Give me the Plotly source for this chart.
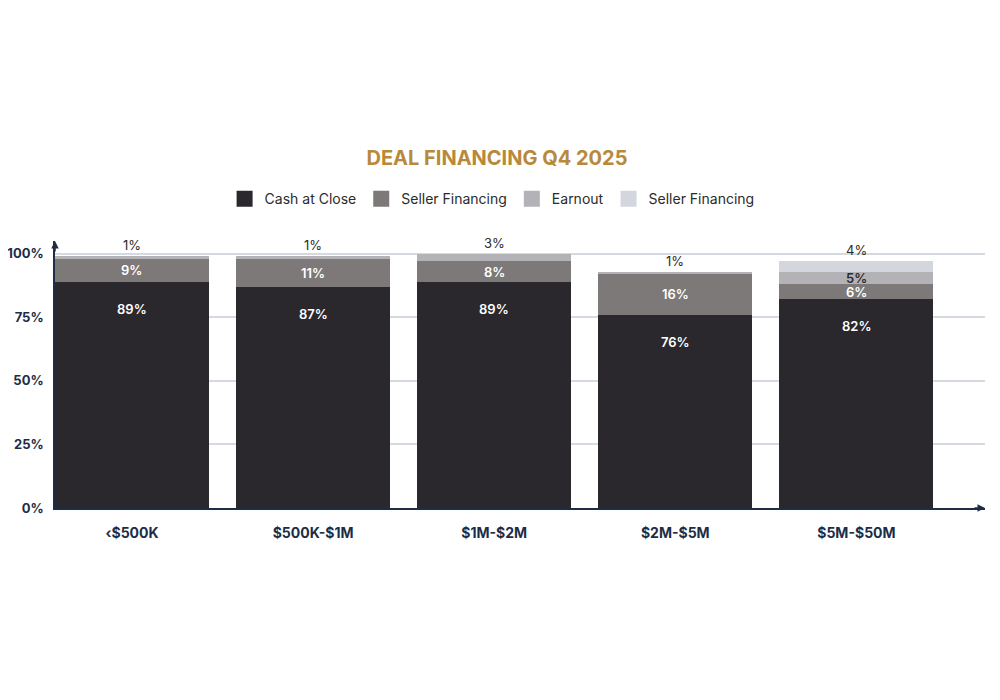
import plotly.graph_objects as go

# Data
categories = ['‹$500K', '$500K-$1M', '$1M-$2M', '$2M-$5M', '$5M-$50M']
series_names = ['Cash at Close', 'Seller Financing', 'Earnout', 'Seller Financing']
cash_at_close = [89, 87, 89, 76, 82]
seller_financing = [9, 11, 8, 16, 6]
earnout = [1, 1, 3, 1, 5]
seller_financing_2 = [0, 0, 0, 0, 4]

series = [cash_at_close, seller_financing, earnout, seller_financing_2]
colors = ['#2a282d', '#7d7978', '#b3b2b6', '#d4d6de']
navy = '#1d2d47'
font_family = 'Inter, Roboto, Arial, sans-serif'

fig = go.Figure()

for name, vals, col in zip(series_names, series, colors):
    fig.add_trace(go.Bar(
        x=categories, y=vals, name=name, showlegend=False,
        marker=dict(color=col, line=dict(width=0)),
    ))

# bigger square legend keys
for name, col in zip(series_names, colors):
    fig.add_trace(go.Scatter(
        x=[None], y=[None], mode='markers', name=name,
        marker=dict(symbol='square', size=17, color=col),
    ))

# Value labels
annotations = []
for i, cat in enumerate(categories):
    vals = [s[i] for s in series]
    top_idx = max(j for j, v in enumerate(vals) if v > 0)
    base = 0
    for j, v in enumerate(vals):
        if v <= 0:
            continue
        label = dict(x=cat, text=f'{v}%', showarrow=False)
        if j == top_idx and j > 0 and v < 5:
            label.update(y=base + v, yanchor='bottom', yshift=1,
                         font=dict(family=font_family, size=13, color='#2b2b2b'))
        elif j == 0:
            label.update(y=base + v, yanchor='middle', yshift=-27,
                         font=dict(family=font_family, size=13, color='white', weight=600))
        else:
            txt_col = 'white' if j == 1 else '#2b2b2b'
            label.update(y=base + v / 2, yanchor='middle',
                         font=dict(family=font_family, size=13, color=txt_col, weight=600))
        annotations.append(label)
        base += v

# axis arrows
annotations.append(dict(xref='paper', yref='y', x=1, y=0, ax=-12, ay=0,
                        showarrow=True, arrowhead=2, arrowsize=1, arrowwidth=1.5,
                        arrowcolor=navy, text=''))
annotations.append(dict(xref='paper', yref='paper', x=0, y=1, ax=0, ay=12,
                        showarrow=True, arrowhead=2, arrowsize=1, arrowwidth=1.5,
                        arrowcolor=navy, text=''))

fig.update_layout(
    barmode='stack',
    bargap=0.15,
    width=1000, height=700,
    paper_bgcolor='white', plot_bgcolor='white',
    margin=dict(l=47, r=23, t=233, b=200),
    font=dict(family=font_family, color=navy),
    title=dict(text='<b>DEAL FINANCING Q4 2025</b>', x=0.489, xanchor='center',
               y=1 - 150 / 700, yanchor='middle', yref='container',
               font=dict(family=font_family, size=20, color='#b8893a')),
    legend=dict(orientation='h', x=0.47, xanchor='center', y=1.157, yanchor='middle',
                font=dict(family=font_family, size=14, color='#2b2b2b'),
                traceorder='normal', itemwidth=30),
    annotations=annotations,
    xaxis=dict(range=[-0.425, 4.71], showline=True, linecolor=navy, linewidth=1.5,
               showgrid=False, ticks='', fixedrange=True, automargin=False,
               ticklabelstandoff=11,
               tickfont=dict(family=font_family, size=14, color=navy, weight='bold')),
    yaxis=dict(range=[0, 105], tickvals=[0, 25, 50, 75, 100],
               ticktext=['0%', '25%', '50%', '75%', '100%'],
               showline=True, linecolor=navy, linewidth=1.5, automargin=False,
               showgrid=True, gridcolor='#d5d9e1', gridwidth=1.5,
               zeroline=False, ticks='', ticklabelstandoff=7,
               tickfont=dict(family=font_family, size=13, color=navy, weight='bold')),
)

fig.write_html('out.html')
